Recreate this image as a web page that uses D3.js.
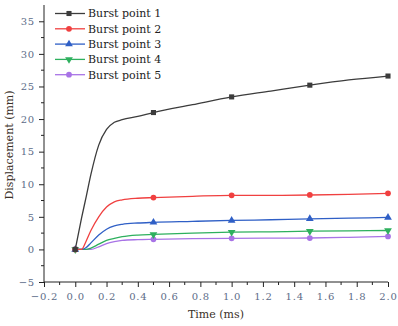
<!DOCTYPE html>
<html>
<head>
<meta charset="utf-8">
<script src="https://cdn.jsdelivr.net/npm/d3@7"></script>
<style>
  body { margin: 0; background: #fff; }
  svg { display: block; }
  svg text { font-family: "DejaVu Serif", "Liberation Serif", serif; }
  .tick text { font-size: 10px; fill: #5d6c88; letter-spacing: 0.8px; }
</style>
</head>
<body>
<svg id="chart" width="398" height="326"></svg>
<script>
// sample times (ms)
var time = [0, 0.04, 0.07, 0.1, 0.15, 0.2, 0.25, 0.3, 0.4, 0.5, 0.75, 1.0, 1.25, 1.5, 1.75, 2.0];
var markerTimes = [0, 0.5, 1.0, 1.5, 2.0];

var burst1 = [0, 4.8, 8.1, 11.5, 16.0, 18.4, 19.5, 19.9, 20.4, 21.0, 22.2, 23.4, 24.3, 25.2, 26.0, 26.6];
var burst2 = [0, 0, 1.3, 2.9, 5.0, 6.5, 7.3, 7.6, 7.85, 7.95, 8.15, 8.3, 8.3, 8.35, 8.45, 8.6];
var burst3 = [0, 0, 0.3, 1.0, 2.2, 3.1, 3.6, 3.85, 4.05, 4.15, 4.3, 4.45, 4.55, 4.7, 4.8, 4.9];
var burst4 = [0, 0, 0, 0.2, 0.8, 1.4, 1.7, 1.95, 2.2, 2.3, 2.5, 2.65, 2.7, 2.8, 2.85, 2.9];
var burst5 = [0, 0, 0, 0, 0.4, 0.9, 1.2, 1.4, 1.5, 1.55, 1.65, 1.7, 1.72, 1.75, 1.85, 2.0];

var seriesNames = ["Burst point 1", "Burst point 2", "Burst point 3", "Burst point 4", "Burst point 5"];
var xTicks = [-0.2, 0.0, 0.2, 0.4, 0.6, 0.8, 1.0, 1.2, 1.4, 1.6, 1.8, 2.0];
var yTicks = [-5, 0, 5, 10, 15, 20, 25, 30, 35];

var colors = ["#3c3c3c", "#f04040", "#2f5fc6", "#2eb05e", "#a873e6"];
var shapes = [d3.symbolSquare, d3.symbolCircle, d3.symbolTriangle, "down", d3.symbolCircle];

var allSeries = [burst1, burst2, burst3, burst4, burst5];

var svg = d3.select("#chart");

var x = d3.scaleLinear().domain([-0.2, 2.0]).range([44, 388]);
var y = d3.scaleLinear().domain([-5, 37.5]).range([282, 5]);

// axes
var xAxis = d3.axisBottom(x).tickValues(xTicks).tickFormat(d3.format(".1f")).tickSize(5).tickPadding(4).tickSizeOuter(0);
var yAxis = d3.axisLeft(y).tickValues(yTicks).tickSize(5).tickPadding(4).tickSizeOuter(0);

var gx = svg.append("g").attr("transform", "translate(0," + y(-5) + ")").call(xAxis);
var gy = svg.append("g").attr("transform", "translate(" + x(-0.2) + ",0)").call(yAxis);
gx.attr("font-family", null).attr("font-size", null);
gy.attr("font-family", null).attr("font-size", null);
gx.select(".domain").attr("d", "M" + x(-0.2) + ",0H" + x(2.0)).attr("stroke", "#222");
gy.select(".domain").attr("d", "M0," + y(-5) + "V" + y(37.5)).attr("stroke", "#222");
gx.selectAll(".tick line").attr("stroke", "#222");
gy.selectAll(".tick line").attr("stroke", "#222");
gx.selectAll(".tick text").attr("dy", "0.9em");

// minor ticks
var xMinor = d3.range(-0.1, 2.0, 0.2);
var yMinor = d3.range(-2.5, 37.5, 5);
svg.append("g").selectAll("line").data(xMinor).join("line")
  .attr("x1", function(d){ return x(d); }).attr("x2", function(d){ return x(d); })
  .attr("y1", y(-5)).attr("y2", y(-5) + 3)
  .attr("stroke", "#222");
svg.append("g").selectAll("line").data(yMinor).join("line")
  .attr("y1", function(d){ return y(d); }).attr("y2", function(d){ return y(d); })
  .attr("x1", x(-0.2)).attr("x2", x(-0.2) - 3)
  .attr("stroke", "#222");

// axis titles
svg.append("text")
  .attr("x", 216).attr("y", 318)
  .attr("text-anchor", "middle")
  .style("font-size", "11px").style("fill", "#3a3028")
  .text("Time (ms)");
svg.append("text")
  .attr("transform", "translate(13,145) rotate(-90)")
  .attr("text-anchor", "middle")
  .style("font-size", "11px").style("fill", "#3a3028")
  .text("Displacement (mm)");

function marker(g, i, cx, cy) {
  var s = shapes[i];
  var sym;
  if (s === "down") {
    sym = d3.symbol().type(d3.symbolTriangle).size(26);
    g.append("path").attr("d", sym()).attr("transform", "translate(" + cx + "," + cy + ") rotate(180)").attr("fill", colors[i]);
  } else {
    sym = d3.symbol().type(s).size(26);
    g.append("path").attr("d", sym()).attr("transform", "translate(" + cx + "," + cy + ")").attr("fill", colors[i]);
  }
}

var line = d3.line()
  .x(function(d){ return x(d[0]); })
  .y(function(d){ return y(d[1]); })
  .curve(d3.curveMonotoneX);

// draw lines, last series first so black stays on top
for (var i = allSeries.length - 1; i >= 0; i--) {
  var vals = allSeries[i];
  var pts = time.map(function(t, k){ return [t, vals[k]]; });
  var g = svg.append("g");
  g.append("path").datum(pts).attr("d", line)
    .attr("fill", "none").attr("stroke", colors[i]).attr("stroke-width", 1.3);
  markerTimes.forEach(function(t){
    var k = time.indexOf(t);
    marker(g, i, x(t), y(vals[k]));
  });
}

// legend
var legend = svg.append("g");
seriesNames.forEach(function(name, i){
  var ly = 13.5 + i * 15.3;
  legend.append("line").attr("x1", 55).attr("x2", 85).attr("y1", ly).attr("y2", ly)
    .attr("stroke", colors[i]).attr("stroke-width", 1.3);
  marker(legend, i, 69, ly);
  legend.append("text").attr("x", 88).attr("y", ly).attr("dy", "0.35em")
    .style("font-size", "11px").style("fill", "#222")
    .text(name);
});
</script>
</body>
</html>
